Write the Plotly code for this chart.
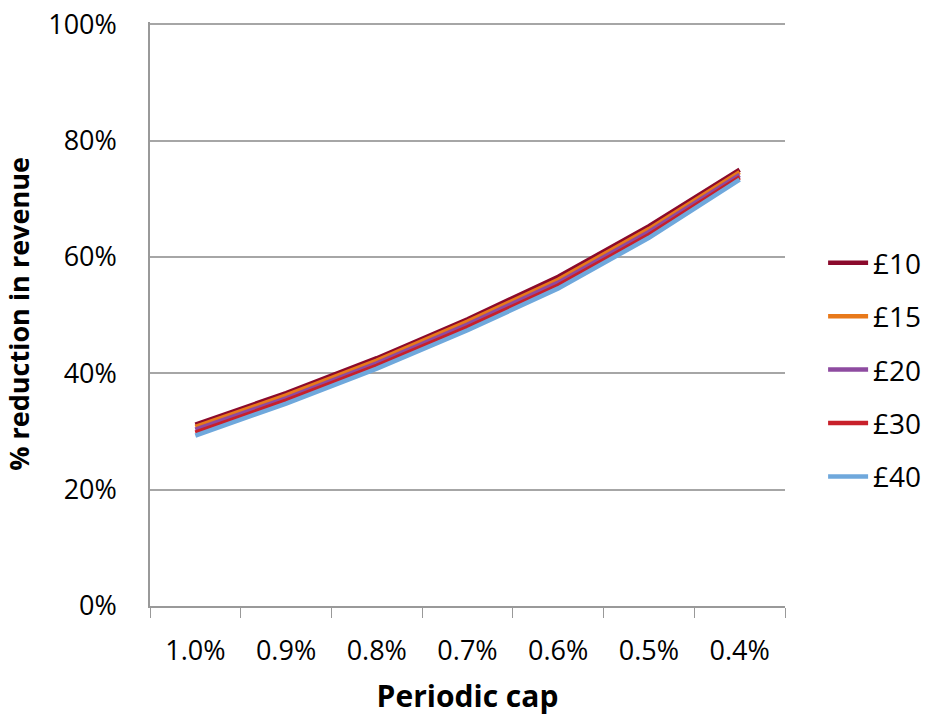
import plotly.graph_objects as go

categories = ["1.0%", "0.9%", "0.8%", "0.7%", "0.6%", "0.5%", "0.4%"]
series_names = ["£10", "£15", "£20", "£30", "£40"]
v10 = [31.2, 36.6, 42.6, 49.3, 56.6, 65.3, 75.0]
v15 = [30.8, 36.2, 42.2, 48.9, 56.1, 64.8, 74.6]
v20 = [30.3, 35.7, 41.7, 48.4, 55.6, 64.3, 74.1]
v30 = [29.8, 35.3, 41.3, 47.9, 55.1, 63.8, 73.7]
v40 = [29.3, 34.8, 40.8, 47.4, 54.6, 63.3, 73.3]
values = [v10, v15, v20, v30, v40]
colors = ["#8B0A2C", "#E8791A", "#8E4BA0", "#C8202A", "#6FA8DC"]

FONT = "Open Sans"

fig = go.Figure()
for name, vals, col in zip(series_names, values, colors):
    fig.add_trace(go.Scatter(
        x=categories, y=[v / 100 for v in vals], mode="lines", name=name,
        legendgroup=name,
        line=dict(color=col, width=4.5),
    ))

fig.update_layout(
    width=933, height=716,
    margin=dict(l=150, r=148, t=22, b=110, autoexpand=False),
    paper_bgcolor="white", plot_bgcolor="white",
    font=dict(family=FONT, size=27, color="#000"),
    showlegend=True,
    legend=dict(x=1.06, y=0.63, xanchor="left", yanchor="top",
                font=dict(size=28), tracegroupgap=14, itemwidth=40),
    xaxis=dict(
        type="category", tickson="boundaries", ticks="outside", ticklen=10,
        tickcolor="#999", showline=True, linecolor="#999", linewidth=1.5,
        showgrid=False, tickfont=dict(size=27), automargin=False,
        ticklabelstandoff=20,
        title=dict(text="<b>Periodic cap</b>", font=dict(size=30), standoff=20),
        range=[-0.5, 6.5],
    ),
    yaxis=dict(
        range=[0, 1.004], tickvals=[0, 0.2, 0.4, 0.6, 0.8, 1.0],
        ticktext=["0%", "20%", "40%", "60%", "80%", "100%"],
        showgrid=True, gridcolor="#A6A6A6", gridwidth=1.5,
        showline=True, linecolor="#999", linewidth=1.5, automargin=False,
        zeroline=False, tickfont=dict(size=27), ticks="", ticklabelstandoff=26,
        title=dict(text="<b>% reduction in revenue</b>", font=dict(size=27), standoff=14),
    ),
)

fig.write_html("out.html")
